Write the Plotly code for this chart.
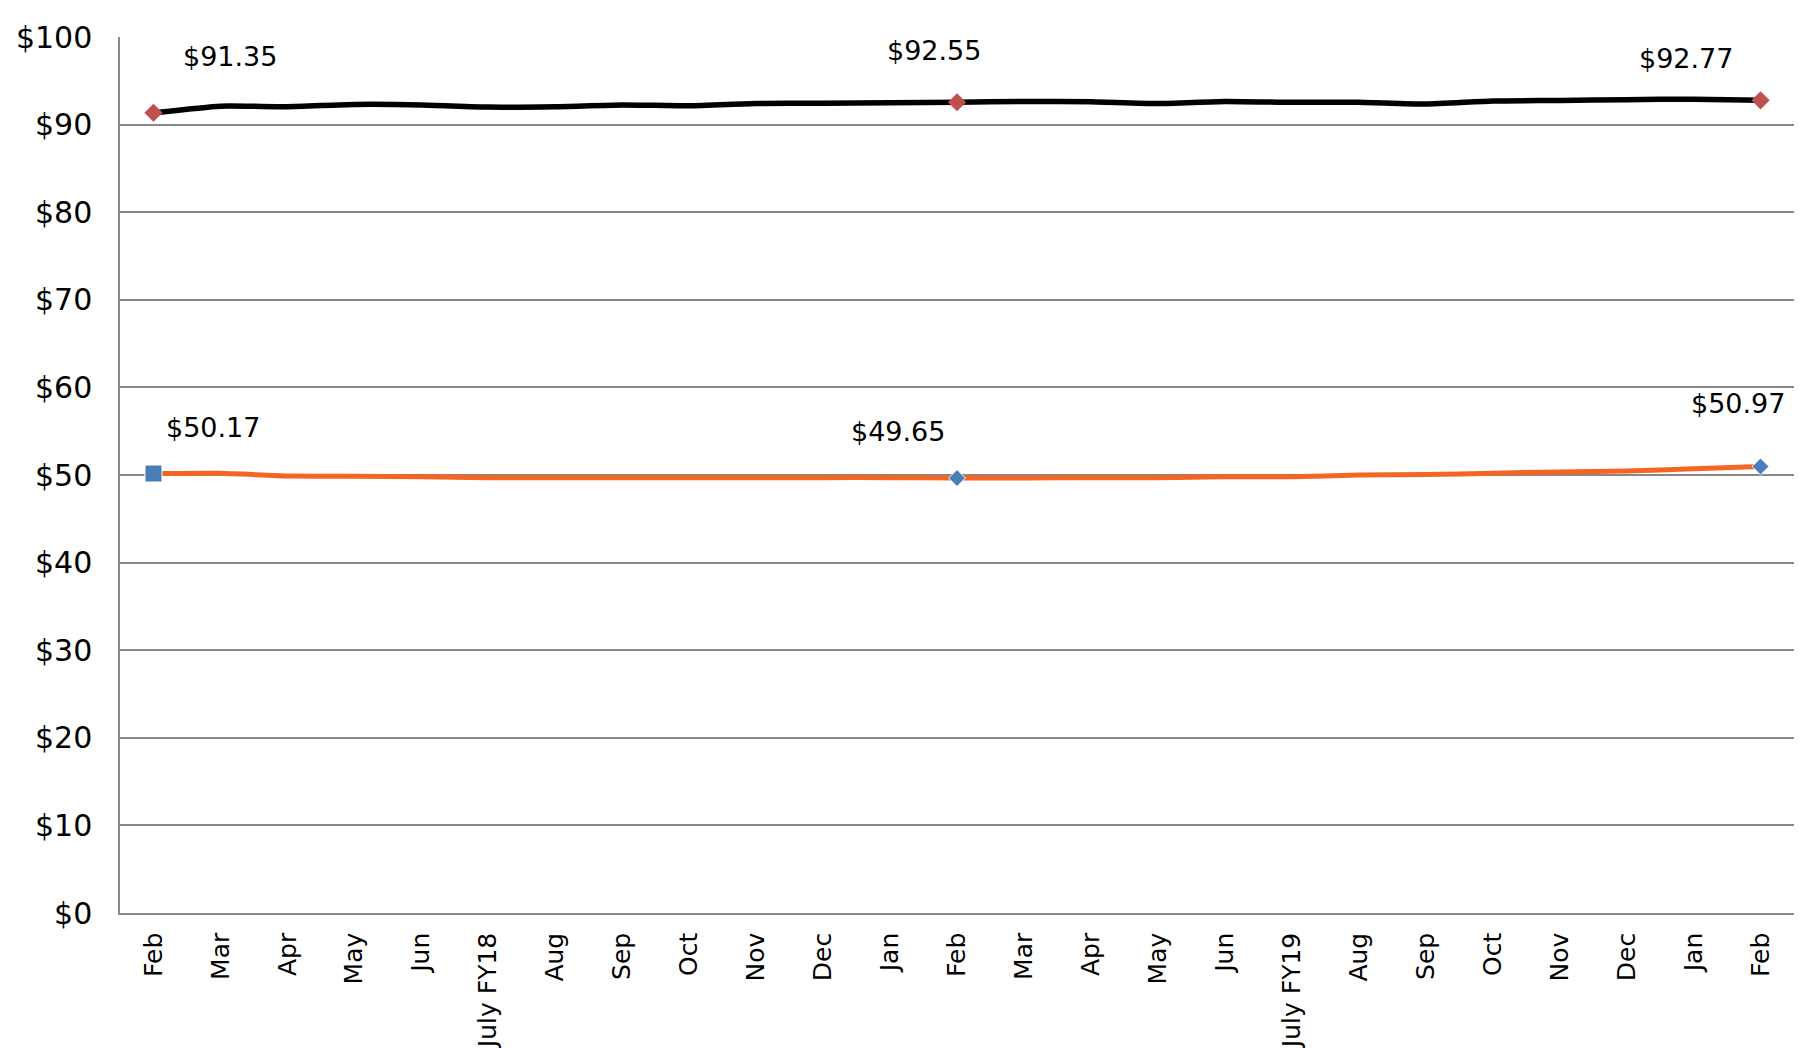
import plotly.graph_objects as go

months = ["Feb", "Mar", "Apr", "May", "Jun", "July FY18", "Aug", "Sep", "Oct", "Nov", "Dec", "Jan",
          "Feb", "Mar", "Apr", "May", "Jun", "July FY19", "Aug", "Sep", "Oct", "Nov", "Dec", "Jan", "Feb"]
upper = [91.35, 92.10, 92.05, 92.30, 92.25, 92.00, 92.05, 92.25, 92.15, 92.40, 92.45, 92.50,
         92.55, 92.65, 92.60, 92.40, 92.65, 92.55, 92.55, 92.35, 92.70, 92.75, 92.85, 92.90, 92.77]
lower = [50.17, 50.20, 49.90, 49.85, 49.80, 49.70, 49.70, 49.70, 49.70, 49.70, 49.70, 49.70,
         49.65, 49.65, 49.70, 49.70, 49.80, 49.80, 50.00, 50.05, 50.20, 50.35, 50.45, 50.70, 50.97]
y_ticks = list(range(0, 101, 10))
marked = [0, 12, 24]

x = list(range(len(months)))
FONT = "DejaVu Sans, Verdana, sans-serif"

fig = go.Figure()
fig.add_trace(go.Scatter(x=x, y=upper, mode="lines",
                         line=dict(color="#000000", width=5.5, shape="spline", smoothing=0.5),
                         hoverinfo="skip", showlegend=False))
fig.add_trace(go.Scatter(x=x, y=lower, mode="lines",
                         line=dict(color="#F26522", width=5, shape="spline", smoothing=0.5),
                         hoverinfo="skip", showlegend=False))
fig.add_trace(go.Scatter(x=marked, y=[upper[i] for i in marked], mode="markers",
                         marker=dict(symbol="diamond", size=14, color="#C0504D", opacity=1),
                         showlegend=False))
fig.add_trace(go.Scatter(x=marked, y=[lower[i] for i in marked], mode="markers",
                         marker=dict(symbol=["square", "diamond", "diamond"], size=[17, 13, 13],
                                     color="#4A7EBB", opacity=1),
                         showlegend=False))

label_offsets_upper = [(77, 56), (-23, 52), (-75, 42)]
label_offsets_lower = [(60, 46), (-59, 47), (-23, 63)]
for (i, (dx, dy)) in zip(marked, label_offsets_upper):
    fig.add_annotation(x=i, y=upper[i], text=f"${upper[i]:.2f}", showarrow=False,
                       xshift=dx, yshift=dy, font=dict(family=FONT, size=27, color="#000000"))
for (i, (dx, dy)) in zip(marked, label_offsets_lower):
    fig.add_annotation(x=i, y=lower[i], text=f"${lower[i]:.2f}", showarrow=False,
                       xshift=dx, yshift=dy, font=dict(family=FONT, size=27, color="#000000"))

fig.update_layout(
    width=1789, height=1040,
    margin=dict(l=112, r=3, t=29, b=135),
    paper_bgcolor="white", plot_bgcolor="white",
    font=dict(family=FONT, color="#000000"),
)
fig.update_xaxes(
    range=[-0.5, len(months) - 0.5], automargin=False,
    tickmode="array", tickvals=x, ticktext=months, tickangle=-90,
    tickfont=dict(family=FONT, size=25, color="#000000"),
    showgrid=False, showline=True, linecolor="#888888", linewidth=1.5,
    ticks="", ticklabelstandoff=8, zeroline=False,
)
fig.update_yaxes(
    range=[0, 100], tickmode="array", tickvals=y_ticks, automargin=False,
    ticktext=[f"${v}" for v in y_ticks],
    tickfont=dict(family=FONT, size=30, color="#000000"),
    showgrid=True, gridcolor="#888888", gridwidth=1.5,
    showline=True, linecolor="#888888", linewidth=1.5,
    ticks="", ticklabelstandoff=20, zeroline=False,
)

fig.write_html("out.html")
